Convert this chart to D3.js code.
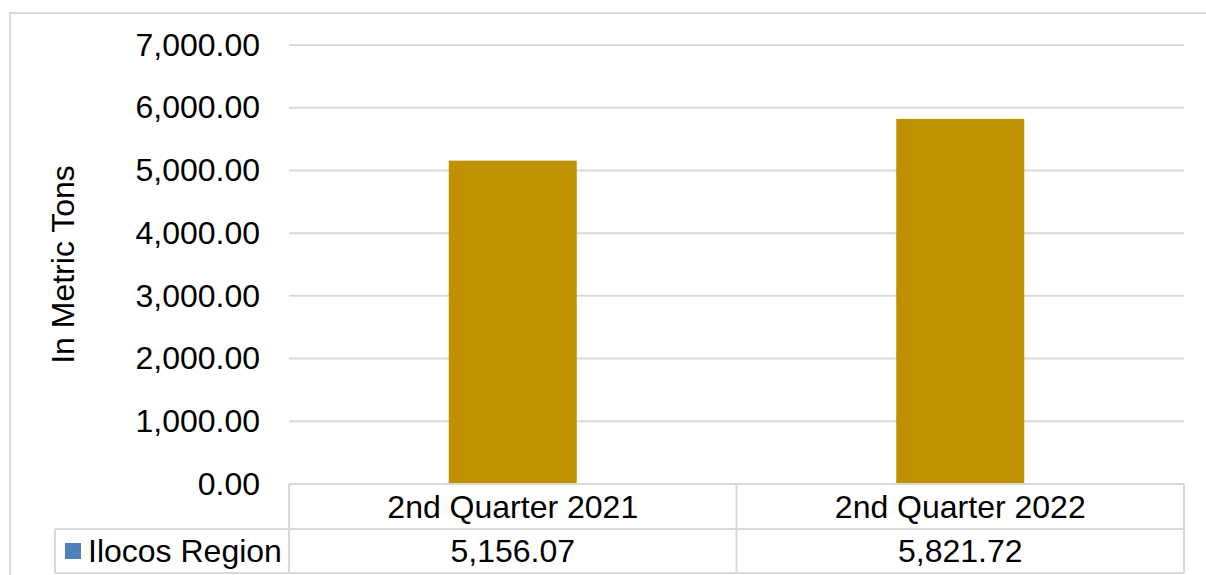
<!DOCTYPE html>
<html>
<head>
<meta charset="utf-8">
<script src="https://cdn.jsdelivr.net/npm/d3@7"></script>
<style>
  body { margin: 0; background: #fff; }
  text { font-family: "Liberation Sans", Arial, sans-serif; fill: #000; }
</style>
</head>
<body>
<svg id="chart" width="1206" height="575"></svg>
<script>
// Data
var categories = ['2nd Quarter 2021', '2nd Quarter 2022'];
var seriesName = 'Ilocos Region';
var values = [5156.07, 5821.72];
var yTicks = [0, 1000, 2000, 3000, 4000, 5000, 6000, 7000];

var svg = d3.select('#chart');
var plot = { left: 289, right: 1184, top: 45, bottom: 484 };
var rowMid = 529, rowBottom = 573, legendLeft = 55;
var grey = '#d9d9d9';
var fs = '32px';
var fmt = d3.format(',.2f');

// outer chart border
svg.append('rect')
	.attr('x', 10).attr('y', 13)
	.attr('width', 1210).attr('height', 580)
	.attr('fill', 'none').attr('stroke', grey).attr('stroke-width', 2);

var x = d3.scaleBand().domain(categories)
	.range([plot.left, plot.right])
	.paddingInner(0.714).paddingOuter(0.357);
var xCell = d3.scaleBand().domain(categories).range([plot.left, plot.right]);
var y = d3.scaleLinear().domain([0, 7000]).range([plot.bottom, plot.top]);

// gridlines
svg.append('g').selectAll('line').data(yTicks.slice(1)).enter().append('line')
	.attr('x1', plot.left).attr('x2', plot.right)
	.attr('y1', function(d) { return y(d); })
	.attr('y2', function(d) { return y(d); })
	.attr('stroke', grey).attr('stroke-width', 2);

// y axis labels
var yAxis = svg.append('g')
	.attr('transform', 'translate(' + (plot.left - 29) + ',0)')
	.call(d3.axisLeft(y).tickValues(yTicks).tickFormat(fmt).tickSize(0).tickPadding(0));
yAxis.select('.domain').remove();
yAxis.selectAll('text').style('font-size', fs)
	.style('font-family', '"Liberation Sans", Arial, sans-serif').attr('fill', '#000');

// axis title
svg.append('text')
	.attr('transform', 'translate(74,' + ((plot.top + plot.bottom) / 2) + ') rotate(-90)')
	.attr('text-anchor', 'middle')
	.style('font-size', fs)
	.text('In Metric Tons');

// bars
svg.append('g').selectAll('rect').data(values).enter().append('rect')
	.attr('x', function(d, i) { return x(categories[i]); })
	.attr('width', x.bandwidth())
	.attr('y', function(d) { return y(d); })
	.attr('height', function(d) { return y(0) - y(d); })
	.attr('fill', '#bf9000');

// data table
var table = svg.append('g').attr('stroke', grey).attr('stroke-width', 2);
table.append('line').attr('x1', plot.left).attr('x2', plot.right)
	.attr('y1', plot.bottom).attr('y2', plot.bottom);
table.append('line').attr('x1', legendLeft).attr('x2', plot.right)
	.attr('y1', rowMid).attr('y2', rowMid);
table.append('line').attr('x1', legendLeft).attr('x2', plot.right)
	.attr('y1', rowBottom).attr('y2', rowBottom);
table.append('line').attr('x1', legendLeft).attr('x2', legendLeft)
	.attr('y1', rowMid).attr('y2', rowBottom);
table.selectAll('.vline').data(categories.concat(['end'])).enter().append('line')
	.attr('x1', function(d, i) { return plot.left + i * xCell.step(); })
	.attr('x2', function(d, i) { return plot.left + i * xCell.step(); })
	.attr('y1', plot.bottom).attr('y2', rowBottom);

svg.append('g').selectAll('text').data(categories).enter().append('text')
	.attr('x', function(d) { return xCell(d) + xCell.bandwidth() / 2; })
	.attr('y', (plot.bottom + rowMid) / 2 + 11)
	.attr('text-anchor', 'middle')
	.style('font-size', fs)
	.text(function(d) { return d; });

svg.append('g').selectAll('text').data(values).enter().append('text')
	.attr('x', function(d, i) { return xCell(categories[i]) + xCell.bandwidth() / 2; })
	.attr('y', (rowMid + rowBottom) / 2 + 11)
	.attr('text-anchor', 'middle')
	.style('font-size', fs)
	.text(function(d) { return fmt(d); });

// legend key
svg.append('rect')
	.attr('x', 65).attr('y', 543).attr('width', 16).attr('height', 16)
	.attr('fill', '#4f81bd');
svg.append('text')
	.attr('x', 88).attr('y', (rowMid + rowBottom) / 2 + 11)
	.style('font-size', fs)
	.text(seriesName);
</script>
</body>
</html>
